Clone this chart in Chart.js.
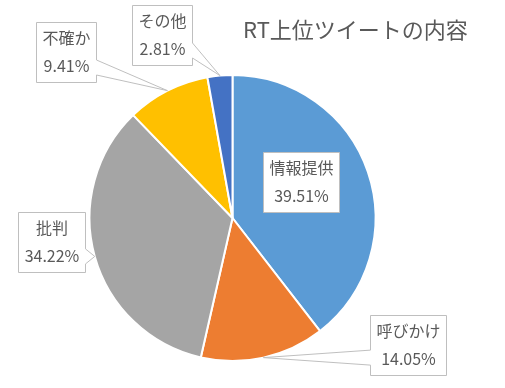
<!DOCTYPE html>
<html>
<head>
<meta charset="utf-8">
<script src="https://cdn.jsdelivr.net/npm/chart.js@4.4.1/dist/chart.umd.min.js"></script>
<style>
html,body{margin:0;padding:0;background:#fff;}
#wrap{width:505px;height:388px;position:relative;}
</style>
</head>
<body>
<div id="wrap"><canvas id="c" width="505" height="388"></canvas></div>
<script>
const chartTitle = 'RT上位ツイートの内容';
const categories = ['情報提供', '呼びかけ', '批判', '不確か', 'その他'];
const percentages = [39.51, 14.05, 34.22, 9.41, 2.81];
const percentLabels = ['39.51%', '14.05%', '34.22%', '9.41%', '2.81%'];

const sliceColors = ['#5B9BD5', '#ED7D31', '#A5A5A5', '#FFC000', '#4472C4'];
// callout box centre, relative to pie centre in units of radius
const calloutOffsets = [
  [0.477, -0.253],
  [1.228, 0.891],
  [-1.267, 0.168],
  [-1.161, -1.158],
  [-0.491, -1.277]
];
const labelFont = '16px "Noto Sans CJK JP", "Noto Sans", sans-serif';
const titleFont = '22px "Noto Sans CJK JP", "Noto Sans", sans-serif';
const textColor = '#595959';
const boxBorder = '#BFBFBF';

const calloutPlugin = {
  id: 'callouts',
  afterDatasetsDraw(chart) {
    const ctx = chart.ctx;
    const meta = chart.getDatasetMeta(0);
    ctx.save();
    // title
    ctx.font = titleFont;
    ctx.fillStyle = textColor;
    ctx.textBaseline = 'middle';
    ctx.textAlign = 'left';
    ctx.fillText(chartTitle, 243, 30);

    ctx.font = labelFont;
    meta.data.forEach((arc, i) => {
      const p = arc.getProps(['x', 'y', 'startAngle', 'endAngle', 'outerRadius'], true);
      const R = p.outerRadius;
      const mid = (p.startAngle + p.endAngle) / 2;
      const tip = [p.x + R * Math.cos(mid), p.y + R * Math.sin(mid)];
      const off = calloutOffsets[i];
      const cx = p.x + off[0] * R, cy = p.y + off[1] * R;
      const l1 = categories[i], l2 = percentLabels[i];
      const w = Math.round(Math.max(ctx.measureText(l1).width, ctx.measureText(l2).width) + 12);
      const h = 60;
      const l = Math.round(cx - w / 2) + 0.5, t = Math.round(cy - h / 2) + 0.5;
      const r = l + w, b = t + h;
      const inside = Math.hypot(cx - p.x, cy - p.y) < R;
      const hw = 7.5;
      let pts;
      if (inside) {
        pts = [[l, t], [r, t], [r, b], [l, b]];
      } else if (tip[0] > r || tip[0] < l) {
        const c = Math.min(Math.max(tip[1], t + h * 0.25), b - h * 0.25);
        if (tip[0] > r) pts = [[l, t], [r, t], [r, c - hw], tip, [r, c + hw], [r, b], [l, b]];
        else pts = [[l, t], [r, t], [r, b], [l, b], [l, c + hw], tip, [l, c - hw]];
      } else {
        const c = Math.min(Math.max(tip[0], l + w * 0.25), r - w * 0.25);
        if (tip[1] < t) pts = [[l, t], [c - hw, t], tip, [c + hw, t], [r, t], [r, b], [l, b]];
        else pts = [[l, t], [r, t], [r, b], [c + hw, b], tip, [c - hw, b], [l, b]];
      }
      ctx.beginPath();
      pts.forEach((q, k) => k ? ctx.lineTo(q[0], q[1]) : ctx.moveTo(q[0], q[1]));
      ctx.closePath();
      ctx.fillStyle = '#FFFFFF';
      ctx.fill();
      ctx.strokeStyle = boxBorder;
      ctx.lineWidth = 1;
      ctx.stroke();
      ctx.fillStyle = textColor;
      ctx.textAlign = 'center';
      ctx.textBaseline = 'middle';
      const mx = (l + r) / 2;
      ctx.fillText(l1, mx, t + 15);
      ctx.fillText(l2, mx, t + 43);
    });
    ctx.restore();
  }
};

new Chart(document.getElementById('c'), {
  type: 'pie',
  data: {
    labels: categories,
    datasets: [{
      data: percentages,
      backgroundColor: sliceColors,
      borderColor: '#FFFFFF',
      borderWidth: 2
    }]
  },
  options: {
    responsive: false,
    animation: false,
    layout: { padding: { left: 88.5, right: 128.5, top: 74, bottom: 26 } },
    plugins: {
      legend: { display: false },
      tooltip: { enabled: false },
      title: { display: false }
    }
  },
  plugins: [calloutPlugin]
});
</script>
</body>
</html>
